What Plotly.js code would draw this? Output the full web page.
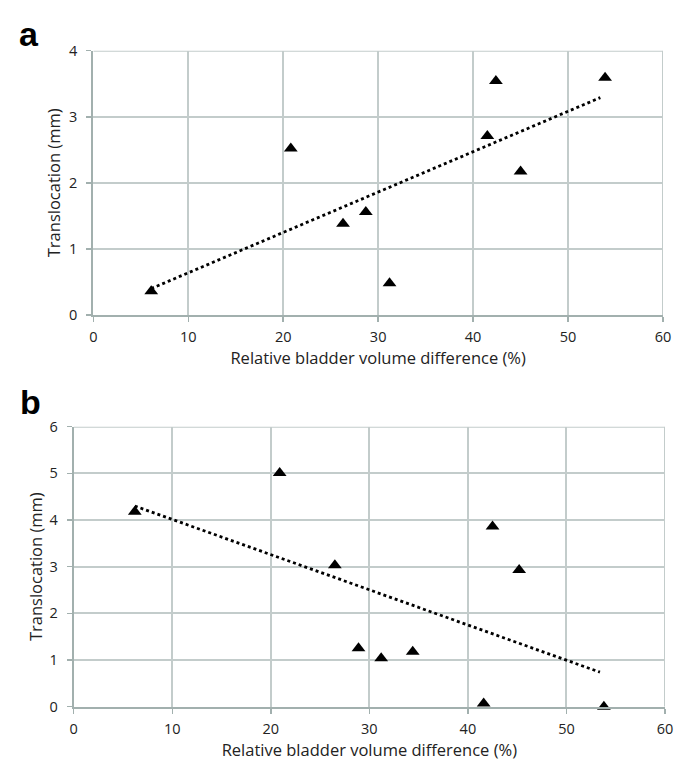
<!DOCTYPE html>
<html>
<head>
<meta charset="utf-8">
<script src="https://cdn.plot.ly/plotly-3.0.1.min.js"></script>
<style>html,body{margin:0;padding:0;background:#fff;}#chart{width:691px;height:779px;}</style>
</head>
<body>
<div id="chart"></div>
<script>
// Panel a data
const aX = [6.1, 20.8, 26.3, 28.7, 31.2, 41.5, 42.4, 45.0, 53.9];
const aY = [0.36, 2.52, 1.38, 1.56, 0.48, 2.71, 3.54, 2.17, 3.59];
const aTrendX = [6.1, 53.4];
const aTrendY = [0.40, 3.29];

// Panel b data
const bX = [6.2, 20.9, 26.5, 28.9, 31.2, 34.4, 41.6, 42.5, 45.2, 53.8];
const bY = [4.18, 5.01, 3.03, 1.25, 1.04, 1.18, 0.07, 3.86, 2.93, 0.0];
const bTrendX = [6.2, 53.4];
const bTrendY = [4.30, 0.74];

const xTicks = [0, 10, 20, 30, 40, 50, 60];
const aYTicks = [0, 1, 2, 3, 4];
const bYTicks = [0, 1, 2, 3, 4, 5, 6];

const xTitle = 'Relative bladder volume difference (%)';
const yTitle = 'Translocation (mm)';

const W = 691, H = 779;
const gridC = '#c3cccb';
const lineC = '#a2b0ae';
const tickFont = {family: 'Open Sans, sans-serif', size: 14.5, color: '#222'};
const titleFont = {family: 'Open Sans, sans-serif', size: 16.5, color: '#222'};

function px(x){return x / W;}
function py(y){return (H - y) / H;}

const markerStyle = {symbol: 'triangle-up', size: 12, color: '#000'};
const trendStyle = {color: '#000', width: 2.8, dash: '3px,3px'};

const traces = [
  {x: aX, y: aY, type: 'scatter', mode: 'markers', marker: markerStyle, xaxis: 'x', yaxis: 'y', showlegend: false, cliponaxis: false},
  {x: aTrendX, y: aTrendY, type: 'scatter', mode: 'lines', line: trendStyle, xaxis: 'x', yaxis: 'y', showlegend: false},
  {x: bX, y: bY, type: 'scatter', mode: 'markers', marker: markerStyle, xaxis: 'x2', yaxis: 'y2', showlegend: false, cliponaxis: false},
  {x: bTrendX, y: bTrendY, type: 'scatter', mode: 'lines', line: trendStyle, xaxis: 'x2', yaxis: 'y2', showlegend: false}
];

function xAxis(domain, anchor, standoff){
  return {
    domain: domain, anchor: anchor, range: [0, 60], tickvals: xTicks, ticktext: xTicks.map(String),
    showgrid: true, gridcolor: gridC, gridwidth: 2, zeroline: false,
    showline: true, linecolor: lineC, linewidth: 2, ticks: 'outside', ticklen: 5, tickcolor: lineC, tickwidth: 1.5,
    ticklabelstandoff: 3,
    tickfont: tickFont, title: {text: xTitle, font: titleFont, standoff: standoff}, automargin: false, fixedrange: true
  };
}
function yAxis(domain, anchor, range, vals, standoff){
  return {
    domain: domain, anchor: anchor, range: range, tickvals: vals, ticktext: vals.map(String),
    showgrid: true, gridcolor: gridC, gridwidth: 2, zeroline: false,
    showline: true, linecolor: lineC, linewidth: 2, ticks: 'outside', ticklen: 5, tickcolor: lineC, tickwidth: 1.5,
    ticklabelstandoff: 6,
    tickfont: tickFont, title: {text: yTitle, font: titleFont, standoff: standoff}, automargin: false, fixedrange: true
  };
}

const layout = {
  width: W, height: H,
  margin: {l: 0, r: 0, t: 0, b: 0},
  paper_bgcolor: '#fff', plot_bgcolor: '#fff',
  xaxis: xAxis([px(93.3), px(663)], 'y', 3),
  yaxis: yAxis([py(315), py(50.7)], 'x', [0, 4], aYTicks, 4),
  xaxis2: xAxis([px(73.7), px(665)], 'y2', 3),
  yaxis2: yAxis([py(706.7), py(426.7)], 'x2', [0, 6], bYTicks, 3),
  shapes: [
    {type: 'line', xref: 'x', yref: 'y', x0: 0, x1: 60, y0: 4, y1: 4, line: {color: gridC, width: 2}},
    {type: 'line', xref: 'x', yref: 'y', x0: 60, x1: 60, y0: 0, y1: 4, line: {color: gridC, width: 2}},
    {type: 'line', xref: 'x2', yref: 'y2', x0: 0, x1: 60, y0: 6, y1: 6, line: {color: gridC, width: 2}},
    {type: 'line', xref: 'x2', yref: 'y2', x0: 60, x1: 60, y0: 0, y1: 6, line: {color: gridC, width: 2}}
  ],
  annotations: [
    {text: '<b>a</b>', xref: 'paper', yref: 'paper', x: px(29), y: py(34), xanchor: 'center', yanchor: 'middle', showarrow: false,
     font: {family: 'Liberation Sans, Arial, sans-serif', size: 34, color: '#000'}},
    {text: '<b>b</b>', xref: 'paper', yref: 'paper', x: px(30), y: py(402), xanchor: 'center', yanchor: 'middle', showarrow: false,
     font: {family: 'Liberation Sans, Arial, sans-serif', size: 34, color: '#000'}}
  ]
};

Plotly.newPlot('chart', traces, layout, {displayModeBar: false, staticPlot: true});
</script>
</body>
</html>
